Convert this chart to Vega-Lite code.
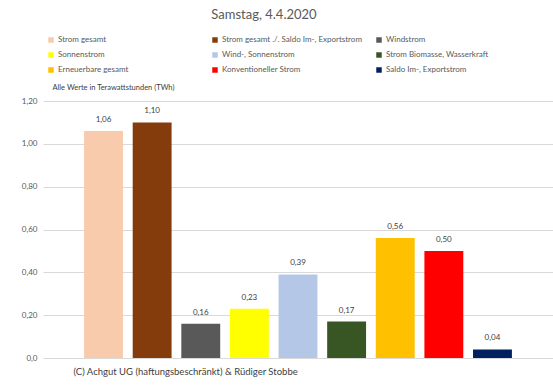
{
  "$schema": "https://vega.github.io/schema/vega-lite/v6.json",
  "width": 510,
  "height": 257,
  "autosize": {"type": "none"},
  "padding": {"left": 43, "top": 101, "right": 0, "bottom": 27},
  "background": "white",
  "config": {
    "font": "Lato",
    "view": {"stroke": null},
    "locale": {"number": {"decimal": ",", "thousands": ".", "grouping": [3], "currency": ["", " €"]}}
  },
  "title": {
    "text": "Samstag, 4.4.2020",
    "anchor": "middle",
    "frame": "group",
    "dx": -34,
    "fontSize": 13,
    "fontWeight": "normal",
    "color": "#595959",
    "offset": 14
  },
  "data": {
    "values": [
      {"kat": "Strom gesamt", "wert": 1.06},
      {"kat": "Strom gesamt ./. Saldo Im-, Exportstrom", "wert": 1.10},
      {"kat": "Windstrom", "wert": 0.16},
      {"kat": "Sonnenstrom", "wert": 0.23},
      {"kat": "Wind-, Sonnenstrom", "wert": 0.39},
      {"kat": "Strom Biomasse, Wasserkraft", "wert": 0.17},
      {"kat": "Erneuerbare gesamt", "wert": 0.56},
      {"kat": "Konventioneller Strom", "wert": 0.50},
      {"kat": "Saldo Im-, Exportstrom", "wert": 0.04}
    ]
  },
  "encoding": {
    "x": {
      "field": "kat",
      "type": "nominal",
      "sort": null,
      "scale": {"paddingInner": 0.2, "paddingOuter": 0.845},
      "axis": {
        "labels": false,
        "ticks": false,
        "domain": true,
        "domainColor": "#d9d9d9",
        "title": "(C) Achgut UG (haftungsbeschränkt) & Rüdiger Stobbe",
        "titleX": 30,
        "titleY": 16,
        "titleAlign": "left",
        "titleBaseline": "alphabetic",
        "titleFontSize": 9.5,
        "titleFontWeight": "normal",
        "titleColor": "#404040"
      }
    },
    "y": {
      "field": "wert",
      "type": "quantitative",
      "scale": {"domain": [0, 1.2]},
      "axis": {
        "values": [0, 0.2, 0.4, 0.6, 0.8, 1.0, 1.2],
        "format": ".2f",
        "labelExpr": "datum.value == 0 ? '0,0' : datum.label",
        "domain": false,
        "ticks": false,
        "gridColor": "#d9d9d9",
        "labelColor": "#595959",
        "labelFontSize": 8,
        "labelPadding": 6,
        "title": "Alle Werte in Terawattstunden (TWh)",
        "titleAngle": 0,
        "titleX": 9,
        "titleY": -12,
        "titleAlign": "left",
        "titleBaseline": "alphabetic",
        "titleFontSize": 7.5,
        "titleFontWeight": "normal",
        "titleColor": "#404040"
      }
    }
  },
  "layer": [
    {
      "mark": {"type": "bar"},
      "encoding": {
        "color": {
          "field": "kat",
          "type": "nominal",
          "sort": null,
          "scale": {
            "domain": ["Strom gesamt", "Strom gesamt ./. Saldo Im-, Exportstrom", "Windstrom", "Sonnenstrom", "Wind-, Sonnenstrom", "Strom Biomasse, Wasserkraft", "Erneuerbare gesamt", "Konventioneller Strom", "Saldo Im-, Exportstrom"],
            "range": ["#F8CBAD", "#843C0C", "#595959", "#FFFF00", "#B4C7E7", "#375623", "#FFC000", "#FF0000", "#002060"]
          },
          "legend": {
            "orient": "none",
            "legendX": 4,
            "legendY": -65,
            "direction": "horizontal",
            "columns": 3,
            "gridAlign": "all",
            "columnPadding": 13,
            "rowPadding": 7,
            "title": null,
            "symbolType": "square",
            "symbolSize": 30,
            "symbolStrokeWidth": 0,
            "labelFontSize": 8,
            "labelColor": "#595959",
            "labelOffset": 3,
            "labelLimit": 200
          }
        }
      }
    },
    {
      "mark": {"type": "text", "dy": -7, "fontSize": 8, "color": "#404040", "baseline": "bottom"},
      "encoding": {
        "text": {"field": "wert", "type": "quantitative", "format": ".2f"}
      }
    }
  ]
}
